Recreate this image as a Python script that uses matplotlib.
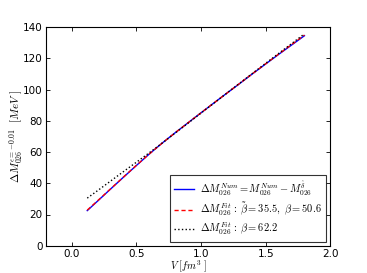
import matplotlib
matplotlib.use("Agg")
import matplotlib.pyplot as plt

plt.rcParams['mathtext.fontset'] = 'cm'
plt.rcParams['font.family'] = ['DejaVu Sans']

V = [0.12, 0.2, 0.3, 0.4, 0.5, 0.6, 0.7, 0.8, 0.9, 1.0, 1.1, 1.2, 1.3, 1.4, 1.5, 1.6, 1.7, 1.8]
dM_num = [22.5, 28.6, 36.3, 43.9, 51.4, 58.8, 65.8, 72.4, 78.8, 85.2, 91.5, 97.8, 104.0, 110.3, 116.5, 122.6, 128.6, 134.6]
dM_fit2 = [22.8, 28.8, 36.4, 44.0, 51.5, 58.8, 65.8, 72.4, 78.8, 85.2, 91.5, 97.8, 104.1, 110.4, 116.6, 122.8, 128.9, 135.0]
dM_fit1 = [30.5, 35.3, 41.4, 47.5, 53.5, 59.6, 65.8, 72.2, 78.6, 85.0, 91.4, 97.8, 104.2, 110.6, 116.9, 123.2, 129.5, 135.8]

labels = [r'$\Delta M_{026}^{Num}=M_{026}^{Num}-M_{026}^{\hat{\delta}}$',
          r'$\Delta M_{026}^{Fit}\,:\,\tilde{\beta}=35.5,\ \beta=50.6$',
          r'$\Delta M_{026}^{Fit}\,:\,\beta=62.2$']

fig = plt.figure(figsize=(3.67, 2.73), dpi=100)
ax = fig.add_axes([0.125, 0.1, 0.775, 0.8])
ax.plot(V, dM_num, color='blue', lw=1.0, label=labels[0])
ax.plot(V, dM_fit2, color='red', lw=1.0, ls='--', dashes=(3, 2), label=labels[1])
ax.plot(V, dM_fit1, color='black', lw=1.0, ls=':', label=labels[2])

ax.set_xlim(-0.2, 2.0)
ax.set_ylim(0, 140)
ax.set_xticks([0.0, 0.5, 1.0, 1.5, 2.0])
ax.set_yticks([0, 20, 40, 60, 80, 100, 120, 140])
ax.tick_params(direction='in', length=3, width=0.6, labelsize=7.5, top=True, right=True, pad=2.5)
for s in ax.spines.values():
    s.set_linewidth(0.8)

ax.set_xlabel(r'$V\ [fm^3\ ]$', fontsize=7.3)
ax.xaxis.set_label_coords(0.5, -0.058)
ax.set_ylabel(r'$\Delta M_{026}^{\epsilon=-0.01}\ \ [MeV\ ]$', fontsize=8, labelpad=-2)

leg = ax.legend(loc='lower right', fontsize=7.5, frameon=True, fancybox=False,
                handlelength=1.9, borderpad=0.4, labelspacing=0.3, handletextpad=0.6,
                borderaxespad=0.4)
leg.get_frame().set_edgecolor('black')
leg.get_frame().set_linewidth(0.8)

fig.savefig('out.png', dpi=100)
